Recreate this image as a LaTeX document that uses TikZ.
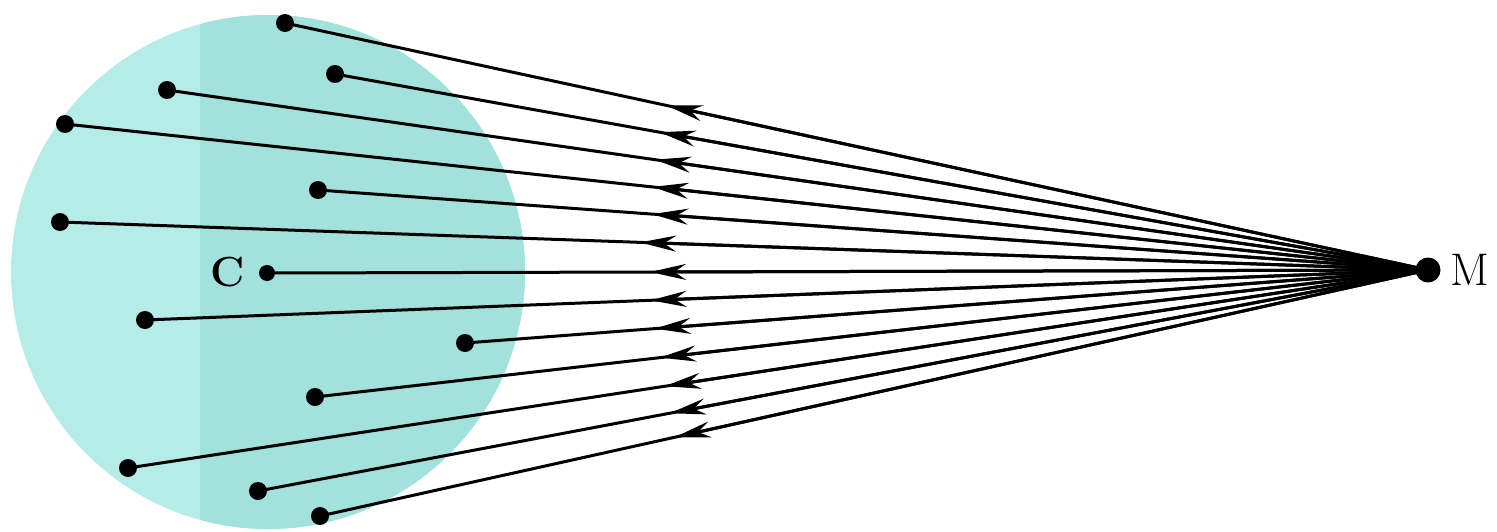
\documentclass[tikz,border=0pt]{standalone}
\usetikzlibrary{calc,arrows.meta}
\definecolor{tealL}{RGB}{182,236,232}
\definecolor{tealD}{RGB}{163,225,220}
\tikzset{
  dot/.style={circle,fill=black,inner sep=0pt,minimum size=0.36cm},
  bigdot/.style={circle,fill=black,inner sep=0pt,minimum size=0.5cm},
  ray/.style={line width=0.06cm},
  arr/.style={line width=0.06cm,-{Stealth[length=0.72cm,width=0.32cm,inset=0.24cm]}},
  lbl/.style={font=\fontsize{26}{26}\selectfont}
}
\begin{document}
\begin{tikzpicture}[x=0.02cm,y=-0.02cm]
\useasboundingbox (0,0) rectangle (1497,531);
% sphere
\begin{scope}
\clip (0,0) rectangle (1497,531);
\fill[tealL] (268,272) circle[radius=257];
\begin{scope}
\clip (200,0) rectangle (1497,531);
\fill[tealD] (268,272) circle[radius=257];
\end{scope}
\end{scope}
% points
\node[bigdot] (M) at (1428,270) {};
\node[lbl,anchor=west] (Ml) at (1444,270) {M};
\node[dot] (p1) at (285,23) {};
\node[dot] (p2) at (335,74) {};
\node[dot] (p3) at (167,90) {};
\node[dot] (p4) at (65,124) {};
\node[dot] (p5) at (318,190) {};
\node[dot] (p6) at (60,222) {};
\node[dot,minimum size=0.32cm] (p7) at (267,273) {};
\node[font=\fontsize{24}{24}\selectfont\bfseries,anchor=east] (Cl) at (251,272) {C};
\node[dot] (p8) at (145,320) {};
\node[dot] (p9) at (465,343) {};
\node[dot] (p10) at (315,397) {};
\node[dot] (p11) at (128,468) {};
\node[dot] (p12) at (258,491) {};
\node[dot] (p13) at (320,516) {};
% rays
\foreach \p/\f in {p1/0.666,p2/0.703,p3/0.613,p4/0.569,p5/0.699,p6/0.576,p7/0.670,p8/0.606,p9/0.803,p10/0.69,p11/0.587,p12/0.648,p13/0.68}{
  \draw[ray] (M.center) -- (\p.center);
  \draw[arr] (M.center) -- ($(M.center)!\f!(\p.center)$);
}
\end{tikzpicture}
\end{document}
